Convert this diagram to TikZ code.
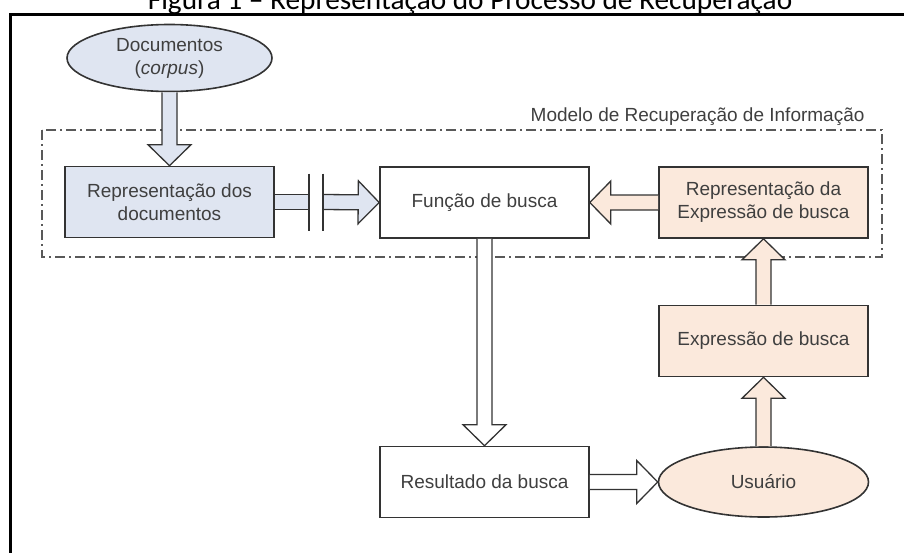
\documentclass[tikz,border=0pt]{standalone}
\usepackage{fontspec}
\setmainfont{Liberation Sans}
\newfontfamily\titlefont{Carlito}
\usetikzlibrary{shapes.geometric,calc}

\definecolor{bluef}{HTML}{DFE5F1}
\definecolor{peachf}{HTML}{FBE9DC}
\definecolor{linegray}{HTML}{333333}
\definecolor{textgray}{HTML}{3F3F3F}

% hollow block arrow from #2 to #3, filled with #1
\newcommand{\fatarrow}[3][white]{%
  \draw[fatline,fill=#1] ($(#2)!7.5pt!90:(#3)$) -- ($(#3)!21pt!(#2)!7.5pt!-90:(#2)$)
    -- ($(#3)!21pt!(#2)!21.5pt!-90:(#2)$) -- (#3) -- ($(#3)!21pt!(#2)!21.5pt!90:(#2)$)
    -- ($(#3)!21pt!(#2)!7.5pt!90:(#2)$) -- ($(#2)!7.5pt!-90:(#3)$);}
% shaft only, no head
\newcommand{\fatshaft}[3][white]{%
  \fill[#1] ($(#2)!7.5pt!90:(#3)$) -- ($(#3)!7.5pt!-90:(#2)$) -- ($(#3)!7.5pt!90:(#2)$) -- ($(#2)!7.5pt!-90:(#3)$) -- cycle;
  \draw[fatline] ($(#2)!7.5pt!90:(#3)$) -- ($(#3)!7.5pt!-90:(#2)$) ($(#3)!7.5pt!90:(#2)$) -- ($(#2)!7.5pt!-90:(#3)$);}

\begin{document}
\begin{tikzpicture}[x=1pt,y=-1pt,
    every node/.style={font=\fontsize{19}{23}\selectfont, text=textgray, align=center},
    blk/.style={draw=linegray, line width=1.6pt, minimum width=209pt, minimum height=71pt, inner sep=0pt},
    oval/.style={blk, ellipse},
    fatline/.style={draw=linegray, line width=1.3pt, line join=miter},
    modelframe/.style={draw=black!65, line width=1.3pt, dash pattern=on 10pt off 4pt on 2pt off 4pt}]

    \useasboundingbox (0,0) rectangle (904,552);
    \clip (0,0) rectangle (904,552);

    % outer frame and title
    \draw[line width=2.5pt] (10.3,14.7) rectangle (930,580);
    \node[anchor=base, font=\titlefont\fontsize{29.3}{32}\selectfont, text=black] (title) at (470,9) {Figura 1 – Representação do Processo de Recuperação};

    % model frame
    \draw[modelframe] (42,130) rectangle (882,257);
    \node[anchor=base east] (mri) at (868,121) {Modelo de Recuperação de Informação};

    % nodes
    \node[oval, fill=bluef, minimum width=205pt, minimum height=67pt] (docs) at (169.5,58) {Documentos\\(\textit{corpus})};
    \node[blk, fill=bluef] (repdoc) at (169.5,202) {Representação dos\\documentos};
    \node[blk, fill=white] (fun) at (484.5,202.5) {Função de busca};
    \node[blk, fill=peachf] (repexp) at (763.5,202.5) {Representação da\\Expressão de busca};
    \node[blk, fill=peachf] (expr) at (763.5,341) {Expressão de busca};
    \node[blk, fill=white] (res) at (484.5,482) {Resultado da busca};
    \node[oval, fill=peachf, minimum width=210pt, minimum height=70pt] (user) at (763.5,482) {Usuário};

    \coordinate (gapl) at (309,202);
    \coordinate (gapr) at (323,202);

    % arrows
    \fatarrow[bluef]{docs.south}{repdoc.north}
    \fatshaft[bluef]{repdoc.east}{gapl}
    \fatarrow[bluef]{gapr}{fun.west}
    \draw[fatline] ($(gapl)+(0,-28.5)$) -- ($(gapl)+(0,28.5)$);
    \draw[fatline] ($(gapr)+(0,-28.5)$) -- ($(gapr)+(0,28.5)$);
    \fatarrow[peachf]{repexp.west}{fun.east}
    \fatarrow[peachf]{expr.north}{repexp.south}
    \fatarrow[peachf]{user.north}{expr.south}
    \fatarrow{fun.south}{res.north}
    \fatarrow{res.east}{user.west}

\end{tikzpicture}
\end{document}
